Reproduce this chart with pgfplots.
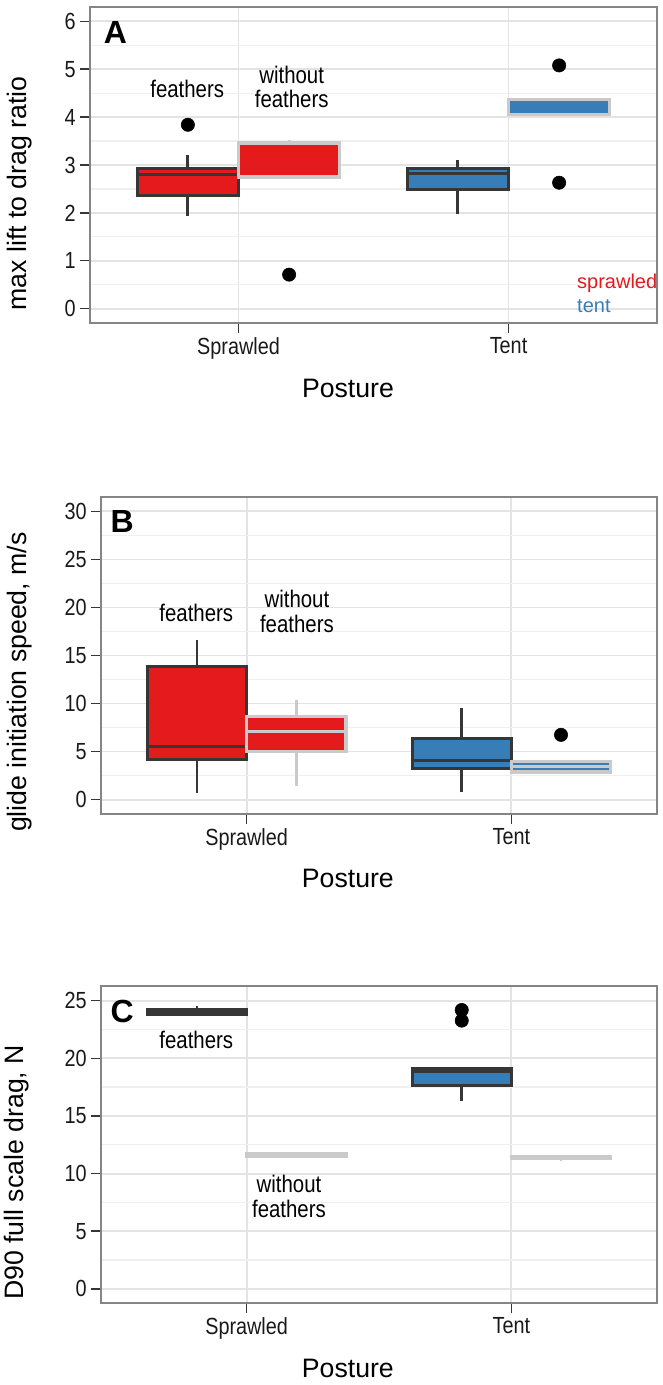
\documentclass[border=0pt]{standalone}
\usepackage{pgfplots}
\pgfplotsset{compat=1.18}
\usepgfplotslibrary{statistics}
\usepackage{fontspec}
\setmainfont{Liberation Sans}
\newfontfamily\narrow{Liberation Sans}[FakeStretch=0.85]

\definecolor{sred}{HTML}{E41A1C}
\definecolor{tblue}{HTML}{377EB8}
\definecolor{dark}{HTML}{363636}
\definecolor{light}{HTML}{CACACA}
\definecolor{gridmaj}{HTML}{E3E3E3}
\definecolor{gridmin}{HTML}{F0F0F0}
\definecolor{frame}{HTML}{858585}

\pgfplotsset{
  panel/.style={
    scale only axis, anchor=south west,
    xmin=0.45, xmax=2.55,
    xtick={1,2}, xticklabels={Sprawled,Tent},
    tick pos=left, tick align=outside,
    major tick length=7.5pt, minor tick length=0pt,
    minor y tick num=1,
    xmajorgrids, ymajorgrids, yminorgrids,
    major grid style={draw=gridmaj, line width=1.4pt},
    minor grid style={draw=gridmin, line width=1pt},
    axis line style={draw=frame, line width=1.4pt},
    every tick/.style={draw=dark, line width=1.1pt},
    /pgf/number format/assume math mode=true,
    tick label style={font=\narrow\fontsize{17.5}{18}\selectfont, text=black!90},
    yticklabel style={inner sep=0pt, xshift=-3pt},
    xticklabel style={inner sep=0pt, yshift=-3pt},
    label style={font=\fontsize{20}{22}\selectfont},
    xlabel={Posture},
    boxplot/draw direction=y,
    boxplot/every whisker/.style={line width=2.2pt},
    boxplot/every median/.style={line width=2.3pt},
  },
  fbox/.style={draw=dark, line width=2.3pt, mark=none},
  wbox/.style={draw=light, line width=2.5pt, mark=none},
  outl/.style={only marks, mark=*, mark size=5pt, black},
}
\newcommand{\annot}{\narrow\fontsize{18}{18.5}\selectfont}

\begin{document}
\begin{tikzpicture}
\path[use as bounding box] (0,0) rectangle (496.5pt,1038.75pt);

% ---------- A ----------
\begin{axis}[panel, at={(67.5pt,796.5pt)}, width=425.25pt, height=237pt,
  ymin=-0.3, ymax=6.3, ytick={0,1,...,6},
  ylabel={max lift to drag ratio},
  ylabel style={at={(axis description cs:-0.125,0.41)}, anchor=center},
  xlabel style={at={(axis description cs:0.455,-0.206)}, anchor=center}]
\addplot[fbox, fill=sred, boxplot prepared={lower whisker=1.93, lower quartile=2.37,
  median=2.80, upper quartile=2.92, upper whisker=3.21,
  draw position=0.8125, box extend=0.375, whisker extend=0}] coordinates {};
\addplot[wbox, fill=sred, boxplot prepared={lower whisker=2.75, lower quartile=2.75,
  median=3.46, upper quartile=3.46, upper whisker=3.52,
  draw position=1.1875, box extend=0.375, whisker extend=0}] coordinates {};
\addplot[fbox, fill=tblue, boxplot prepared={lower whisker=1.97, lower quartile=2.49,
  median=2.83, upper quartile=2.92, upper whisker=3.11,
  draw position=1.8125, box extend=0.375, whisker extend=0}] coordinates {};
\addplot[wbox, fill=tblue, boxplot prepared={lower whisker=4.06, lower quartile=4.06,
  median=4.06, upper quartile=4.37, upper whisker=4.37,
  draw position=2.1875, box extend=0.375, whisker extend=0}] coordinates {};
\addplot[outl] coordinates {(0.8125,3.84) (1.1875,0.71) (2.1875,5.08) (2.1875,2.63)};
\node[font=\bfseries\fontsize{24}{24}\selectfont] at (axis cs:0.544,5.77) {A};
\node[font=\annot] at (axis cs:0.81,4.58) {feathers};
\node[font=\annot, align=center] at (axis cs:1.197,4.63) {without\\feathers};
\node[font=\fontsize{15}{15}\selectfont, text=sred, anchor=base west] at (axis cs:2.237,0.41) {sprawled};
\node[font=\fontsize{15}{15}\selectfont, text=tblue, anchor=base west] at (axis cs:2.237,-0.08) {tent};
\end{axis}

% ---------- B ----------
\begin{axis}[panel, at={(75.75pt,428.25pt)}, width=417pt, height=237.75pt,
  ymin=-1.5, ymax=31.5, ytick={0,5,...,30},
  ylabel={glide initiation speed, m/s},
  ylabel style={at={(axis description cs:-0.147,0.416)}, anchor=center},
  xlabel style={at={(axis description cs:0.444,-0.202)}, anchor=center}]
\addplot[fbox, fill=sred, boxplot prepared={lower whisker=0.69, lower quartile=4.2,
  median=5.55, upper quartile=13.9, upper whisker=16.6,
  draw position=0.8125, box extend=0.375, whisker extend=0}] coordinates {};
\addplot[wbox, fill=sred, boxplot prepared={lower whisker=1.38, lower quartile=5.01,
  median=7.08, upper quartile=8.64, upper whisker=10.37,
  draw position=1.1875, box extend=0.375, whisker extend=0}] coordinates {};
\addplot[fbox, fill=tblue, boxplot prepared={lower whisker=0.76, lower quartile=3.28,
  median=4.08, upper quartile=6.39, upper whisker=9.5,
  draw position=1.8125, box extend=0.375, whisker extend=0}] coordinates {};
\addplot[wbox, fill=tblue, boxplot prepared={lower whisker=2.66, lower quartile=2.87,
  median=3.42, upper quartile=3.98, upper whisker=3.98,
  draw position=2.1875, box extend=0.375, whisker extend=0}] coordinates {};
\addplot[outl] coordinates {(2.1875,6.74)};
\node[font=\bfseries\fontsize{24}{24}\selectfont] at (axis cs:0.53,28.9) {B};
\node[font=\annot] at (axis cs:0.81,19.46) {feathers};
\node[font=\annot, align=center] at (axis cs:1.19,19.6) {without\\feathers};
\end{axis}

% ---------- C ----------
\begin{axis}[panel, at={(75.75pt,61.3pt)}, width=417pt, height=237.75pt,
  ymin=-1.25, ymax=26.25, ytick={0,5,...,25},
  ylabel={D90 full scale drag, N},
  ylabel style={at={(axis description cs:-0.151,0.413)}, anchor=center},
  xlabel style={at={(axis description cs:0.444,-0.205)}, anchor=center}]
\addplot[fbox, fill=sred, boxplot prepared={lower whisker=23.82, lower quartile=23.82,
  median=24.03, upper quartile=24.24, upper whisker=24.5,
  draw position=0.8125, box extend=0.375, whisker extend=0}] coordinates {};
\addplot[wbox, fill=sred, boxplot prepared={lower whisker=11.48, lower quartile=11.48,
  median=11.59, upper quartile=11.70, upper whisker=11.70,
  draw position=1.1875, box extend=0.375, whisker extend=0}] coordinates {};
\addplot[fbox, fill=tblue, boxplot prepared={lower whisker=16.27, lower quartile=17.65,
  median=18.87, upper quartile=19.1, upper whisker=19.1,
  draw position=1.8125, box extend=0.375, whisker extend=0}] coordinates {};
\addplot[wbox, fill=tblue, boxplot prepared={lower whisker=11.09, lower quartile=11.28,
  median=11.39, upper quartile=11.5, upper whisker=11.5,
  draw position=2.1875, box extend=0.375, whisker extend=0}] coordinates {};
\addplot[outl] coordinates {(1.8125,24.19) (1.8125,23.27)};
\node[font=\bfseries\fontsize{24}{24}\selectfont] at (axis cs:0.53,24.1) {C};
\node[font=\annot] at (axis cs:0.81,21.6) {feathers};
\node[font=\annot, align=center] at (axis cs:1.16,7.99) {without\\feathers};
\end{axis}
\end{tikzpicture}
\end{document}
